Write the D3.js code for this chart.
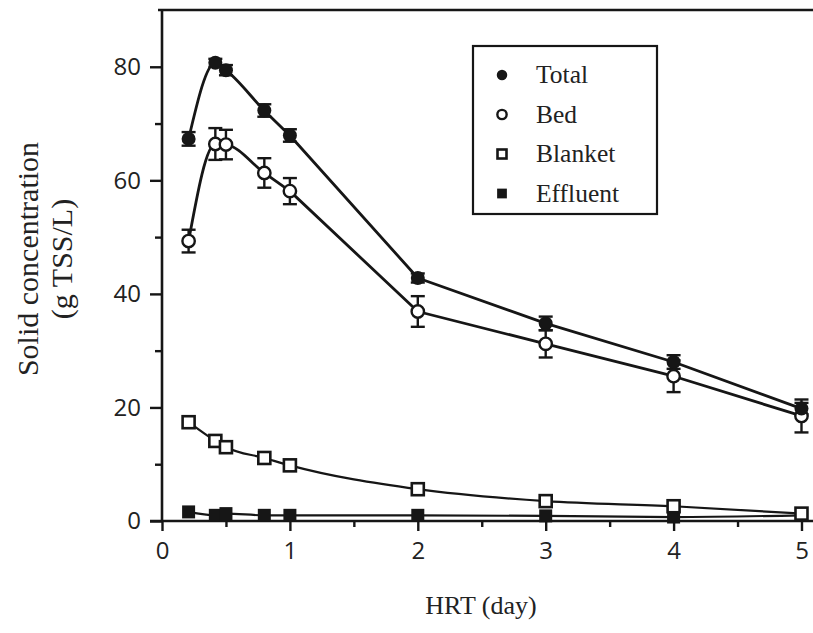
<!DOCTYPE html>
<html>
<head>
<meta charset="utf-8">
<script src="https://cdn.jsdelivr.net/npm/d3@7"></script>
<style>
  html, body { margin: 0; padding: 0; background: #fff; }
  svg { display: block; }
</style>
</head>
<body>
<svg id="chart" width="813" height="633"></svg>
<script>
// Hydraulic retention time (day)
const hrt = [0.208, 0.417, 0.5, 0.8, 1, 2, 3, 4, 5];
// Solid concentration (g TSS/L)
const total      = [67.3, 80.7, 79.4, 72.3, 67.9, 42.8, 34.8, 28.0, 19.8];
const totalErr   = [1.2, 0.7, 0.9, 1.1, 1.1, 0.8, 1.2, 1.2, 1.0];
const bed        = [49.3, 66.4, 66.3, 61.3, 58.1, 36.9, 31.2, 25.5, 18.5];
const bedErr     = [2.0, 2.8, 2.6, 2.6, 2.3, 2.7, 2.4, 2.8, 2.9];
const blanket    = [17.4, 14.1, 13.0, 11.1, 9.8, 5.6, 3.5, 2.6, 1.3];
const effluent   = [1.6, 1.0, 1.3, 1.0, 1.0, 1.0, 0.9, 0.7, 1.0];

const xMajor = [0, 1, 2, 3, 4, 5];
const xMinor = [0.5, 1.5, 2.5, 3.5, 4.5];
const yMajor = [0, 20, 40, 60, 80];
const yMinor = [10, 30, 50, 70];

const legendNames = ["Total", "Bed", "Blanket", "Effluent"];

const ink = "#161616";
const serif = "'Liberation Serif', 'Times New Roman', serif";
const svg = d3.select("#chart");
const W = 813;

const x = d3.scaleLinear().domain([0, 5.09]).range([162, 813]);
const y = d3.scaleLinear().domain([0, 90]).range([521, 10]);

// axes
const gx = svg.append("g").attr("transform", `translate(0,${y(0)})`);
gx.call(d3.axisBottom(x).tickValues(xMajor).tickSize(10).tickPadding(11).tickFormat(d3.format("d")));
const gxm = svg.append("g").attr("transform", `translate(0,${y(0)})`);
gxm.call(d3.axisBottom(x).tickValues(xMinor).tickSize(6).tickFormat(""));

const gy = svg.append("g").attr("transform", `translate(${x(0)},0)`);
gy.call(d3.axisLeft(y).tickValues(yMajor).tickSize(12).tickPadding(9).tickFormat(d3.format("d")));
const gym = svg.append("g").attr("transform", `translate(${x(0)},0)`);
gym.call(d3.axisLeft(y).tickValues(yMinor).tickSize(7).tickFormat(""));

[gx, gxm, gy, gym].forEach(g => {
  g.select(".domain").remove();
  g.selectAll(".tick line").attr("stroke", ink).attr("stroke-width", 2.4);
  g.selectAll(".tick text")
    .attr("fill", "#222")
    .attr("font-family", "'Open Sans', Lato, sans-serif")
    .attr("font-size", 24);
});

// axis lines and top frame
svg.append("line").attr("x1", x(0) - 12).attr("x2", W).attr("y1", y(0)).attr("y2", y(0))
  .attr("stroke", ink).attr("stroke-width", 2.6);
svg.append("line").attr("x1", x(0)).attr("x2", x(0)).attr("y1", y(0)).attr("y2", y(90))
  .attr("stroke", ink).attr("stroke-width", 2.6);
svg.append("line").attr("x1", x(0) - 4).attr("x2", W).attr("y1", y(90)).attr("y2", y(90))
  .attr("stroke", ink).attr("stroke-width", 2.6);

// axis titles
svg.append("text")
  .attr("x", 481).attr("y", 614)
  .attr("text-anchor", "middle")
  .attr("font-family", serif)
  .attr("font-size", 26).attr("fill", "#222")
  .text("HRT (day)");

const yTitle = svg.append("g").attr("transform", "translate(0,259) rotate(-90)");
yTitle.append("text")
  .attr("x", 0).attr("y", 38)
  .attr("text-anchor", "middle")
  .attr("font-family", serif)
  .attr("font-size", 30).attr("fill", "#222")
  .text("Solid concentration");
yTitle.append("text")
  .attr("x", 0).attr("y", 72)
  .attr("text-anchor", "middle")
  .attr("font-family", serif)
  .attr("font-size", 30).attr("fill", "#222")
  .text("(g TSS/L)");

// series lines: smooth through the short-HRT peak, straight segments from 1 day on
const pairs = vals => hrt.map((h, i) => [h, vals[i]]);
const smooth = d3.line().x(d => x(d[0])).y(d => y(d[1])).curve(d3.curveMonotoneX);
const straight = d3.line().x(d => x(d[0])).y(d => y(d[1]));
const splitAt = hrt.indexOf(1);

function drawSeriesLine(vals, width) {
  const pts = pairs(vals);
  [smooth(pts.slice(0, splitAt + 1)), straight(pts.slice(splitAt))].forEach(d =>
    svg.append("path").attr("d", d)
      .attr("fill", "none").attr("stroke", ink).attr("stroke-width", width)
      .attr("stroke-linejoin", "round"));
}
drawSeriesLine(total, 2.8);
drawSeriesLine(bed, 2.8);

svg.append("path").datum(pairs(blanket)).attr("d", smooth)
  .attr("fill", "none").attr("stroke", ink).attr("stroke-width", 2.2);
svg.append("path").datum(pairs(effluent)).attr("d", smooth)
  .attr("fill", "none").attr("stroke", ink).attr("stroke-width", 2.2);

// error bars
function errorBars(vals, errs) {
  const g = svg.append("g").attr("stroke", ink).attr("stroke-width", 2.4);
  hrt.forEach((h, i) => {
    const cx = x(h), lo = y(vals[i] - errs[i]), hi = y(vals[i] + errs[i]);
    g.append("line").attr("x1", cx).attr("x2", cx).attr("y1", lo).attr("y2", hi);
    g.append("line").attr("x1", cx - 7).attr("x2", cx + 7).attr("y1", lo).attr("y2", lo);
    g.append("line").attr("x1", cx - 7).attr("x2", cx + 7).attr("y1", hi).attr("y2", hi);
  });
}
errorBars(total, totalErr);
errorBars(bed, bedErr);

// markers
const markerDraw = {
  Total: (g, cx, cy, s) => g.append("circle").attr("cx", cx).attr("cy", cy).attr("r", 7 * s).attr("fill", ink),
  Bed: (g, cx, cy, s) => g.append("circle").attr("cx", cx).attr("cy", cy).attr("r", 6.2 * s)
    .attr("fill", "#fff").attr("stroke", ink).attr("stroke-width", 2.4),
  Blanket: (g, cx, cy, s) => g.append("rect").attr("x", cx - 6 * s).attr("y", cy - 6 * s)
    .attr("width", 12 * s).attr("height", 12 * s)
    .attr("fill", "#fff").attr("stroke", ink).attr("stroke-width", 2.6),
  Effluent: (g, cx, cy, s) => g.append("rect").attr("x", cx - 6.5 * s).attr("y", cy - 6.5 * s)
    .attr("width", 13 * s).attr("height", 13 * s).attr("fill", ink)
};

const seriesVals = { Total: total, Bed: bed, Blanket: blanket, Effluent: effluent };
["Effluent", "Blanket", "Bed", "Total"].forEach(name => {
  const g = svg.append("g");
  seriesVals[name].forEach((v, i) => markerDraw[name](g, x(hrt[i]), y(v), 1));
});

// legend
const lg = svg.append("g");
lg.append("rect").attr("x", 473).attr("y", 46).attr("width", 184).attr("height", 168)
  .attr("fill", "#fff").attr("stroke", ink).attr("stroke-width", 2.2);
legendNames.forEach((name, i) => {
  const cy = 75 + i * 39.5;
  markerDraw[name](lg, 502, cy, 0.75);
  lg.append("text").attr("x", 536).attr("y", cy + 8)
    .attr("font-family", serif)
    .attr("font-size", 25.5).attr("fill", "#222")
    .text(name);
});
</script>
</body>
</html>
